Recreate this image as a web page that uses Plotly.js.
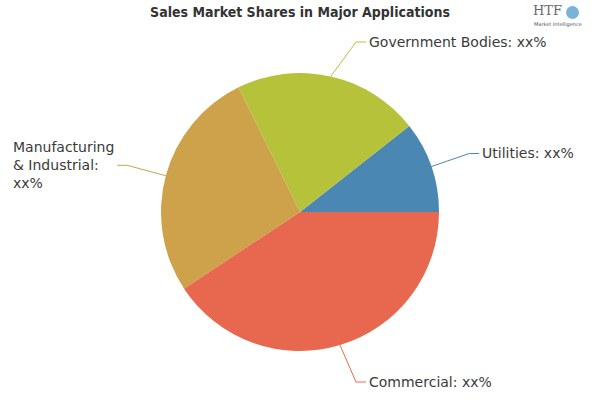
<!DOCTYPE html>
<html>
<head>
<meta charset="utf-8">
<script src="https://cdn.plot.ly/plotly-3.0.1.min.js"></script>
<style>html,body{margin:0;padding:0;background:#fff;}#chart{width:600px;height:400px;}</style>
</head>
<body>
<div id="chart"></div>
<script>
// ---- data ----
const categories = ["Utilities", "Government Bodies", "Manufacturing & Industrial", "Commercial"];
const shares = [10.6, 21.7, 27.0, 40.7];
const labelTexts = ["Utilities: xx%", "Government Bodies: xx%", "Manufacturing<br>& Industrial:<br>xx%", "Commercial: xx%"];
const sliceColors = ["#4a87b3", "#b5c23a", "#cea24a", "#e8684f"];
const chartTitle = "Sales Market Shares in Major Applications";

// ---- geometry (pixels) ----
const W = 600, H = 400;
const cx = 300, cy = 212, r = 139;
const labelR = r + 40;
const minLabelY = 42, maxLabelY = 382;

const px = x => x / W;
const py = y => 1 - y / H;

const total = shares.reduce((a, b) => a + b, 0);
const shapes = [];
const annotations = [];
let cum = 0;
shares.forEach((v, i) => {
  const a0 = cum / total * 2 * Math.PI;
  cum += v;
  const a1 = cum / total * 2 * Math.PI;
  const mid = (a0 + a1) / 2;
  const ex = cx + r * Math.cos(mid), ey = cy - r * Math.sin(mid);
  let ly = cy - labelR * Math.sin(mid);
  ly = Math.max(minLabelY, Math.min(maxLabelY, ly));
  const dy = ly - cy;
  const right = Math.cos(mid) >= 0;
  const dx = Math.sqrt(Math.max(0, labelR * labelR - dy * dy));
  const lx = right ? cx + dx : cx - dx;
  const hx = right ? lx + 10 : lx - 10;
  shapes.push({
    type: 'path', xref: 'paper', yref: 'paper',
    path: `M ${px(ex)} ${py(ey)} L ${px(lx)} ${py(ly)} L ${px(hx)} ${py(ly)}`,
    line: {color: sliceColors[i], width: 1}
  });
  annotations.push({
    xref: 'paper', yref: 'paper', showarrow: false,
    x: px(right ? hx + 1 : hx - 1), y: py(ly),
    xanchor: right ? 'left' : 'right', yanchor: 'middle', align: 'left',
    text: labelTexts[i],
    font: {family: 'DejaVu Sans', size: 14, color: '#3a3a3a'}
  });
});

// logo text
annotations.push({xref: 'paper', yref: 'paper', showarrow: false, x: px(547), y: py(11),
  xanchor: 'center', yanchor: 'middle', text: 'HTF',
  font: {family: 'DejaVu Serif', size: 13, color: '#6a6a6a'}});
annotations.push({xref: 'paper', yref: 'paper', showarrow: false, x: px(558), y: py(24),
  xanchor: 'center', yanchor: 'middle', text: 'Market Intelligence',
  font: {family: 'DejaVu Sans', size: 5, color: '#555'}});
shapes.push({type: 'circle', xref: 'paper', yref: 'paper',
  x0: px(566), x1: px(579), y0: py(19), y1: py(6),
  fillcolor: '#5a9fcf', line: {width: 0}, opacity: 0.8});

const trace = {
  type: 'pie',
  labels: categories,
  values: shares,
  sort: false,
  direction: 'counterclockwise',
  rotation: 90 - 360 * shares[0] / total,
  textinfo: 'none',
  hoverinfo: 'none',
  marker: {colors: sliceColors, line: {width: 0}},
  domain: {x: [(cx - r) / W, (cx + r) / W], y: [(H - cy - r) / H, (H - cy + r) / H]},
  showlegend: false
};

const layout = {
  width: W, height: H,
  margin: {l: 0, r: 0, t: 0, b: 0},
  paper_bgcolor: '#fff',
  title: {text: '<b>' + chartTitle + '</b>', x: 0.5, xanchor: 'center', y: 1 - 12 / H, yanchor: 'middle',
    font: {family: '"DejaVu Sans Condensed", "Liberation Sans Narrow", "Roboto Condensed", sans-serif', size: 14, color: '#333'}},
  shapes: shapes,
  annotations: annotations
};

Plotly.newPlot('chart', [trace], layout, {staticPlot: true, displayModeBar: false});
</script>
</body>
</html>
